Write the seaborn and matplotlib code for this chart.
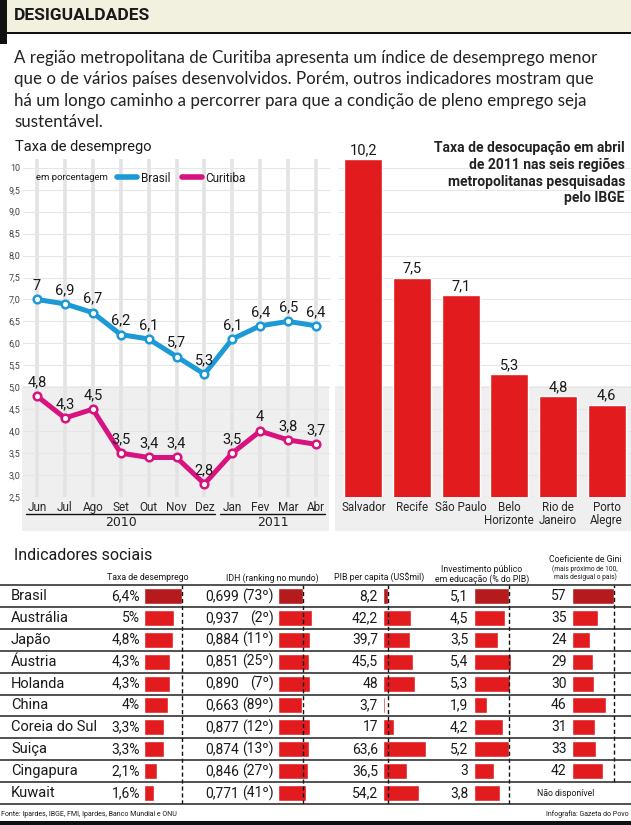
import numpy as np
import pandas as pd
import matplotlib
matplotlib.use('Agg')
import matplotlib.pyplot as plt
from matplotlib.patches import Rectangle
from matplotlib.lines import Line2D
import seaborn as sns

# taxa de desemprego mensal, em %
meses = ['Jun', 'Jul', 'Ago', 'Set', 'Out', 'Nov', 'Dez', 'Jan', 'Fev', 'Mar', 'Abr']
brasil = [7, 6.9, 6.7, 6.2, 6.1, 5.7, 5.3, 6.1, 6.4, 6.5, 6.4]
curitiba = [4.8, 4.3, 4.5, 3.5, 3.4, 3.4, 2.8, 3.5, 4, 3.8, 3.7]
anos = ['2010', '2011']

# desocupacao em abril de 2011
regioes = ['Salvador', 'Recife', 'São Paulo', 'Belo\nHorizonte', 'Rio de\nJaneiro', 'Porto\nAlegre']
desocupacao = [10.2, 7.5, 7.1, 5.3, 4.8, 4.6]

# indicadores sociais
paises = ['Brasil', 'Austrália', 'Japão', 'Áustria', 'Holanda', 'China',
          'Coreia do Sul', 'Suiça', 'Cingapura', 'Kuwait']
desemprego = [6.4, 5, 4.8, 4.3, 4.3, 4, 3.3, 3.3, 2.1, 1.6]
idh = [0.699, 0.937, 0.884, 0.851, 0.890, 0.663, 0.877, 0.874, 0.846, 0.771]
idh_rank = [73, 2, 11, 25, 7, 89, 12, 13, 27, 41]
pib = [8.2, 42.2, 39.7, 45.5, 48, 3.7, 17, 63.6, 36.5, 54.2]
educacao = [5.1, 4.5, 3.5, 5.4, 5.3, 1.9, 4.2, 5.2, 3, 3.8]
gini = [57, 35, 24, 29, 30, 46, 31, 33, 42, np.nan]

AZUL = '#1b9ad6'
MAGENTA = '#d8137f'
VERMELHO = '#e21c1e'
VERMELHO_ESC = '#b51a1c'
CINZA = '#efefef'
BEGE = '#f2f0df'
NARROW = ['Roboto', 'DejaVu Sans']

sns.set_style('white')
plt.rcParams['font.family'] = ['Roboto', 'DejaVu Sans']
plt.rcParams['text.color'] = '#1a1a1a'

W, H = 631, 825


def box(x0, y0, x1, y1):
    return [x0 / W, 1 - y1 / H, (x1 - x0) / W, (y1 - y0) / H]


def fx(x):
    return x / W


def fy(y):
    return 1 - y / H


def fmt(v):
    return ('%g' % v).replace('.', ',')


def rect(x0, y0, x1, y1, cor):
    fig.add_artist(Rectangle((fx(x0), fy(y1)), (x1 - x0) / W, (y1 - y0) / H,
                             transform=fig.transFigure, color=cor, lw=0, zorder=-1))


fig = plt.figure(figsize=(6.31, 8.25), dpi=100)

# cabecalho
rect(0, 0, 631, 33, BEGE)
rect(0, 32, 631, 34, '#111111')
rect(0, 0, 7, 44, '#111111')
rect(0, 821, 631, 825, '#111111')
fig.text(fx(14), fy(16), 'DESIGUALDADES', fontsize=12.5, weight='bold', va='center')

intro = ['A região metropolitana de Curitiba apresenta um índice de desemprego menor',
         'que o de vários países desenvolvidos. Porém, outros indicadores mostram que',
         'há um longo caminho a percorrer para que a condição de pleno emprego seja',
         'sustentável.']
for k, linha in enumerate(intro):
    fig.text(fx(14), fy(58 + k * 21.4), linha, fontsize=12.2, family=['Lato', 'DejaVu Sans'],
             va='center', color='#222222')

# fundos cinza dos graficos
rect(22, 386, 329, 531, CINZA)
rect(335, 386, 631, 531, CINZA)

# grafico de linhas
fig.text(fx(15), fy(147), 'Taxa de desemprego', fontsize=10.5, va='center')
ax1 = fig.add_axes(box(23, 159, 330, 497))
ax1.set_facecolor('none')
for vals, cor in [(brasil, AZUL), (curitiba, MAGENTA)]:
    sns.lineplot(x=meses, y=vals, color=cor, lw=3.6, marker='o', ms=5.5, mfc='white',
                 mec=cor, mew=1.8, sort=False, ax=ax1, zorder=3)
    for i, v in enumerate(vals):
        ax1.annotate(fmt(v), (i, v), xytext=(0, 5), textcoords='offset points',
                     ha='center', va='bottom', fontsize=10.5, family=NARROW, zorder=4)
ax1.set_xlim(-0.5, 10.5)
ax1.set_ylim(2.5, 10.2)
yt = np.arange(2.5, 10.01, 0.5)
ax1.set_yticks(yt)
ax1.set_yticklabels(['10' if t == 10 else ('%.1f' % t).replace('.', ',') for t in yt])
ax1.grid(axis='y', color='#e6e6e6', lw=0.8)
ax1.grid(axis='x', color='#e3e3e3', lw=2.6)
ax1.set_axisbelow(True)
ax1.tick_params(axis='y', length=0, pad=2, labelsize=6.5, labelcolor='#444444')
ax1.tick_params(axis='x', length=0, pad=3, labelsize=8.5)
for lb in ax1.get_xticklabels():
    lb.set_family(NARROW)
ax1.set_xlabel('')
ax1.set_ylabel('')
sns.despine(ax=ax1, left=True, bottom=True)

trans = ax1.get_xaxis_transform()
for ano, (a, b) in zip(anos, [(-0.39, 6.38), (6.56, 10.32)]):
    ax1.plot([a, b], [-0.05, -0.05], color='#111111', lw=1, transform=trans, clip_on=False)
    ax1.text((a + b) / 2, -0.074, ano, transform=trans, ha='center', va='center',
             fontsize=9, family=['DejaVu Sans'], color='#222222')

fig.text(fx(36), fy(178), 'em porcentagem', fontsize=6.8, va='center', family=NARROW)
handles = [Line2D([], [], color=AZUL, lw=4, solid_capstyle='round'),
           Line2D([], [], color=MAGENTA, lw=4, solid_capstyle='round')]
ax1.legend(handles, ['Brasil', 'Curitiba'], loc='center left', bbox_to_anchor=(fx(117), fy(178)),
           bbox_transform=fig.transFigure, ncol=2, frameon=False, borderpad=0, borderaxespad=0,
           handlelength=1.7, handletextpad=0.3, columnspacing=1.0,
           prop={'family': NARROW, 'size': 8.5})

# grafico de barras
ax2 = fig.add_axes(box(339, 159, 631, 497))
ax2.set_facecolor('none')
sns.barplot(x=regioes, y=desocupacao, color=VERMELHO, width=0.78, saturation=1, ax=ax2, zorder=3)
for i, v in enumerate(desocupacao):
    ax2.annotate(fmt(v), (i, v), xytext=(0, 1.5), textcoords='offset points',
                 ha='center', va='bottom', fontsize=10.5, family=NARROW)
ax2.set_xlim(-0.5, 5.5)
ax2.set_ylim(2.5, 10.2)
ax2.set_yticks(yt)
ax2.set_yticklabels([])
ax2.grid(axis='y', color='#e6e6e6', lw=0.8)
ax2.set_axisbelow(True)
ax2.tick_params(axis='both', length=0)
ax2.tick_params(axis='x', pad=3, labelsize=8.3)
for lb in ax2.get_xticklabels():
    lb.set_family(NARROW)
    lb.set_linespacing(1.0)
ax2.set_xlabel('')
ax2.set_ylabel('')
sns.despine(ax=ax2, left=True, bottom=True)

titulo2 = ['Taxa de desocupação em abril', 'de 2011 nas seis regiões',
           'metropolitanas pesquisadas', 'pelo IBGE']
for k, linha in enumerate(titulo2):
    fig.text(fx(625), fy(148 + k * 16.8), linha, ha='right', va='center', fontsize=10,
             family=NARROW, weight='bold', color='#222222')

# tabela de indicadores
fig.text(fx(14), fy(555), 'Indicadores sociais', fontsize=11.5, va='center', family=NARROW)
cab = [(148, ['Taxa de desemprego']), (272, ['IDH (ranking no mundo)']),
       (379, ['PIB per capita (US$mil)']), (482, ['Investimento público', 'em educação (% do PIB)']),
       (585, ['Coeficiente de Gini', '(mais próximo de 100,', 'mais desigual o país)'])]
for xc, linhas in cab:
    if len(linhas) == 1:
        ys, tams = [578], [6.3]
    elif len(linhas) == 2:
        ys, tams = [569, 579], [6.3, 6.3]
    else:
        ys, tams = [560, 569, 577], [6.3, 4.8, 4.8]
    for linha, yy, fs in zip(linhas, ys, tams):
        fig.text(fx(xc), fy(yy), linha, ha='center', va='center', fontsize=fs, family=NARROW)

topo, passo = 585, 21.9
for i in range(len(paises) + 1):
    fig.add_artist(Line2D([0, 1], [fy(topo + i * passo)] * 2, color='#222222', lw=1.1,
                          transform=fig.transFigure))
for i, p in enumerate(paises):
    fig.text(fx(11), fy(topo + (i + 0.5) * passo), p, va='center', fontsize=10.5, family=NARROW)

cores = {p: (VERMELHO_ESC if p == 'Brasil' else VERMELHO) for p in paises}
colunas = [
    (desemprego, 144, 6.0, [fmt(v) + '%' for v in desemprego], 4),
    (idh, 278, 36.0, ['(%dº)' % r for r in idh_rank], 4),
    (pib, 383, 0.67, [fmt(v) for v in pib], 5),
    (educacao, 474, 6.8, [fmt(v) for v in educacao], 5.5),
    (gini, 572, 0.737, ['' if np.isnan(v) else '%d' % v for v in gini], 5.5),
]
for vals, x0, escala, rotulos, gap in colunas:
    larg = 50
    axb = fig.add_axes(box(x0, topo, x0 + larg, topo + 10 * passo))
    df = pd.DataFrame({'pais': paises, 'valor': vals})
    sns.barplot(data=df, x='valor', y='pais', hue='pais', order=paises, hue_order=paises,
                palette=cores, orient='h', width=0.73, saturation=1, legend=False, ax=axb)
    axb.set_xlim(0, larg / escala)
    axb.set_ylim(9.5, -0.5)
    ymin = 0.1 if vals is gini else 0
    axb.axvline(vals[0], ymin=ymin, color='#111111', lw=1, ls=(0, (3, 2)))
    axb.axis('off')
    for i, rot in enumerate(rotulos):
        axb.annotate(rot, (0, i), xytext=(-gap, 0), textcoords='offset pixels',
                     ha='right', va='center', fontsize=10, family=NARROW, annotation_clip=False)
    if vals is idh:
        for i, v in enumerate(vals):
            axb.annotate(('%.3f' % v).replace('.', ','), (0, i), xytext=(-73, 0),
                         textcoords='offset pixels', ha='left', va='center', fontsize=10,
                         family=NARROW, annotation_clip=False)

fig.text(fx(566), fy(topo + 9.5 * passo), 'Não disponível', ha='center', va='center',
         fontsize=6.3, family=NARROW)

fig.text(fx(1), fy(814), 'Fonte: Ipardes, IBGE, FMI, Ipardes, Banco Mundial e ONU', fontsize=5,
         va='center', family=NARROW)
fig.text(fx(629), fy(814), 'Infografia: Gazeta do Povo', fontsize=5, va='center', ha='right',
         family=NARROW)

fig.savefig('out.png', dpi=100)
